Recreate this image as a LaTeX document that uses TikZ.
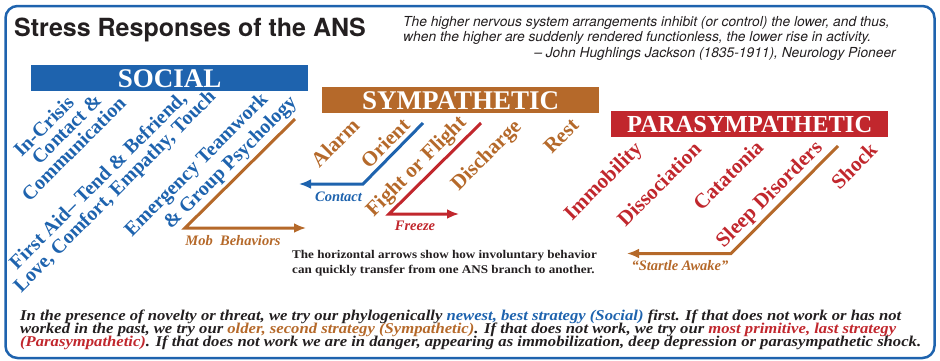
\documentclass[tikz,border=0pt]{standalone}
\usepackage{fontspec}
\setmainfont{Liberation Serif}
\newfontfamily\heros{TeX Gyre Heros}
\newfontfamily\widefont[FakeStretch=1.11]{Liberation Serif}
\usetikzlibrary{arrows.meta}
\definecolor{socblue}{HTML}{1E63AE}
\definecolor{symbrown}{HTML}{B5692A}
\definecolor{parared}{HTML}{C1272D}
\definecolor{txtdark}{HTML}{231F20}
\newcommand\fsz[2]{\fontsize{#1}{#2}\selectfont}
\begin{document}
\begin{tikzpicture}[x=1pt,y=-1pt,
  header/.style={text=white, font=\bfseries\fsz{27}{27}, minimum height=26pt, inner sep=0pt, anchor=north west},
  diag/.style={rotate=45, font=\bfseries\fsz{21}{19}, inner sep=0pt, anchor=center},
  socdiag/.style={diag, text=socblue, font=\bfseries\fsz{20}{19}},
  symdiag/.style={diag, text=symbrown},
  paradiag/.style={diag, text=parared},
  flowline/.style={line width=3pt, -{Latex[length=12pt,width=10pt]}},
  arrlabel/.style={font=\bfseries\itshape\fsz{14.5}{14}, inner sep=0pt, anchor=center},
  quote/.style={font=\heros\itshape\fsz{13.8}{13}, text=txtdark, inner sep=0pt},
  note/.style={font=\widefont\bfseries\fsz{11.8}{12}, text=txtdark, inner sep=0pt, anchor=base west},
  bottomline/.style={font=\widefont\bfseries\itshape\fsz{15}{13}, text=txtdark, inner sep=0pt, anchor=base west}
]
\useasboundingbox (0,0) rectangle (940,360);
\draw[socblue, line width=2.5pt, rounded corners=12pt] (5.5,6) rectangle (934.5,358);

% title and quote
\node[font=\heros\bfseries\fsz{25}{25}, text=txtdark, inner sep=0pt, anchor=base west] (title) at (14,36.5) {Stress Responses of the ANS};
\node[quote, anchor=base west] (q1) at (403,26) {The higher nervous system arrangements inhibit (or control) the lower, and thus,};
\node[quote, anchor=base west] (q2) at (403,41.5) {when the higher are suddenly rendered functionless, the lower rise in activity.};
\node[quote, anchor=base east] (q3) at (896,57) {– John Hughlings Jackson (1835-1911), Neurology Pioneer};

% headers
\node[header, fill=socblue, minimum width=277pt] (social) at (31,65) {SOCIAL};
\node[header, fill=symbrown, minimum width=277pt] (symp) at (322,87) {SYMPATHETIC};
\node[header, fill=parared, minimum width=277pt, font=\bfseries\fsz{24.5}{25}] (para) at (611,111) {PARASYMPATHETIC};

% social texts
\node[socdiag] (s1a) at (43.5,126) {In-Crisis};
\node[socdiag] (s1b) at (66.5,129) {Contact \&};
\node[socdiag] (s1c) at (73.5,148.5) {Communication};
\node[socdiag] (s2a) at (98.5,181) {First Aid– Tend \& Befriend,};
\node[socdiag] (s2b) at (115.5,192) {Love, Comfort, Empathy, Touch};
\node[socdiag] (s3a) at (197,165.5) {Emergency Teamwork};
\node[socdiag] (s3b) at (231,163.5) {\& Group Psychology};

% sympathetic texts
\node[symdiag] (alarm) at (335,143) {Alarm};
\node[symdiag] (orient) at (385,143) {Orient};
\node[symdiag] (fight) at (417,167) {Fight or Flight};
\node[symdiag] (discharge) at (487,156) {Discharge};
\node[symdiag] (rest) at (561,136) {Rest};

% parasympathetic texts
\node[paradiag] (immob) at (604,182) {Immobility};
\node[paradiag] (dissoc) at (659,184) {Dissociation};
\node[paradiag] (catat) at (728,175) {Catatonia};
\node[paradiag] (sleep) at (770,195) {Sleep Disorders};
\node[paradiag] (shock) at (854,166) {Shock};

% connectors
\coordinate (mobtop) at (295,119);
\coordinate (mobcorner) at (185,228);
\coordinate (mobend) at (306,228);
\draw[flowline, symbrown] (mobtop) -- (mobcorner) -- (mobend);
\node[arrlabel, text=symbrown] (mob) at (233,241) {Mob\ \ Behaviors};

\coordinate (contop) at (423,123);
\coordinate (concorner) at (363,184);
\coordinate (conend) at (299,184);
\draw[flowline, socblue] (contop) -- (concorner) -- (conend);
\node[arrlabel, text=socblue] (contact) at (338.5,197) {Contact};

\coordinate (frtop) at (481,123);
\coordinate (frcorner) at (389,214);
\coordinate (frend) at (459,214);
\draw[flowline, parared] (frtop) -- (frcorner) -- (frend);
\node[arrlabel, text=parared] (freeze) at (415,226) {Freeze};

\coordinate (sttop) at (838,146);
\coordinate (stcorner) at (731,253.5);
\coordinate (stend) at (627,253.5);
\draw[flowline, symbrown] (sttop) -- (stcorner) -- (stend);
\node[arrlabel, text=symbrown] (startle) at (680,266) {\char"201CStartle Awake\char"201D};

% note
\node[note] (n1) at (292,258) {The horizontal arrows show how involuntary behavior};
\node[note] (n2) at (292,273.5) {can quickly transfer from one ANS branch to another.};

% bottom text
\node[bottomline] (b1) at (20,320) {In the presence of novelty or threat, we try our phylogenically \textcolor{socblue}{newest, best strategy (Social)} first. If that does not work or has not};
\node[bottomline] (b2) at (20,333) {worked in the past, we try our \textcolor{symbrown}{older, second strategy (Sympathetic)}. If that does not work, we try our \textcolor{parared}{most primitive, last strategy}};
\node[bottomline] (b3) at (20,346.5) {\textcolor{parared}{(Parasympathetic)}. If that does not work we are in danger, appearing as immobilization, deep depression or parasympathetic shock.};
\end{tikzpicture}
\end{document}
